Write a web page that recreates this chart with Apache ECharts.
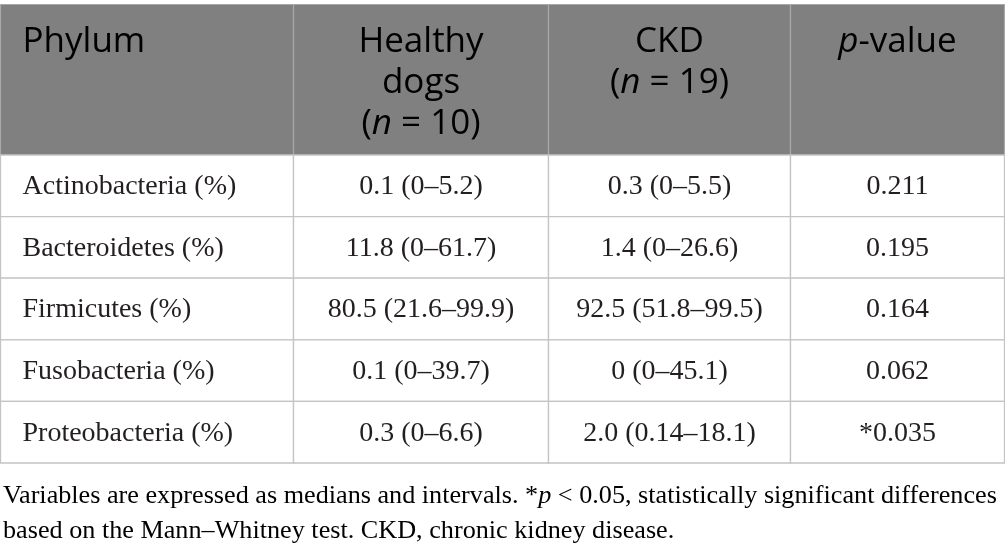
<!DOCTYPE html>
<html>
<head>
<meta charset="utf-8">
<script src="https://cdn.jsdelivr.net/npm/echarts@6/dist/echarts.min.js"></script>
<style>html,body{margin:0;padding:0;background:#fff}#c{width:1005px;height:553px}</style>
</head>
<body>
<div id="c"></div>
<script>
// ---- data ----
const headerLines = [['Phylum'], ['Healthy', 'dogs', '(n = 10)'], ['CKD', '(n = 19)'], ['p-value']];
const phyla = ['Actinobacteria (%)', 'Bacteroidetes (%)', 'Firmicutes (%)', 'Fusobacteria (%)', 'Proteobacteria (%)'];
const healthy = ['0.1 (0–5.2)', '11.8 (0–61.7)', '80.5 (21.6–99.9)', '0.1 (0–39.7)', '0.3 (0–6.6)'];
const ckd = ['0.3 (0–5.5)', '1.4 (0–26.6)', '92.5 (51.8–99.5)', '0 (0–45.1)', '2.0 (0.14–18.1)'];
const pValues = ['0.211', '0.195', '0.164', '0.062', '*0.035'];
const footnoteLines = [
  'Variables are expressed as medians and intervals. *p < 0.05, statistically significant differences',
  'based on the Mann–Whitney test. CKD, chronic kidney disease.'
];

// ---- layout ----
const colEdges = [0, 293, 548, 790, 1004];
const bodyColumns = [phyla, healthy, ckd, pValues];
const HEAD_FONT = '"Open Sans", sans-serif';
const BODY_FONT = '"Liberation Serif", serif';

function italicize(s, base) {
  // italic for stand-alone statistical symbols n and p
  return s.replace(/(^|\(|\*)([np])(?=[ \-])/g, (m, a, b) => a + '}{i|' + b + '}{' + base + '|')
    .replace(/^/, '{' + base + '|') + '}';
}

const headerData = headerLines.map((l, i) => [i, 0]);
const bodyData = [];
for (let c = 0; c < 4; c++) for (let r = 0; r < phyla.length; r++) bodyData.push([c, r]);

function cellGeom(api, c, r) {
  const x0 = Math.round(api.coord([colEdges[c], r])[0]) + 0.5;
  const x1 = Math.round(api.coord([colEdges[c + 1], r])[0]) + 0.5;
  const yc = api.coord([0, r])[1];
  const h = api.size([0, 1])[1];
  return { x0, x1, yc, h };
}

function renderHeader(params, api) {
  const c = api.value(0), r = api.value(1);
  const g = cellGeom(api, c, r);
  const top = g.yc - g.h / 2;
  const txt = headerLines[c].map(l => italicize(l, 't')).join('\n');
  return {
    type: 'group',
    children: [
      { type: 'rect', shape: { x: g.x0, y: Math.round(top) + 0.5, width: g.x1 - g.x0, height: g.h },
        style: { fill: '#808080', stroke: '#a8a8a8', lineWidth: 1.2 } },
      { type: 'text', style: {
          text: txt,
          x: c === 0 ? g.x0 + 22 : (g.x0 + g.x1) / 2,
          y: top + 18,
          align: c === 0 ? 'left' : 'center',
          verticalAlign: 'top',
          rich: {
            t: { fontFamily: HEAD_FONT, fontSize: 35, color: '#ffffff', lineHeight: 41 },
            i: { fontFamily: HEAD_FONT, fontSize: 35, color: '#ffffff', lineHeight: 41, fontStyle: 'italic' }
          }
        } }
    ]
  };
}

function renderBody(params, api) {
  const c = api.value(0), r = api.value(1);
  const g = cellGeom(api, c, r);
  return {
    type: 'group',
    children: [
      { type: 'rect', shape: { x: g.x0, y: g.yc - g.h / 2, width: g.x1 - g.x0, height: g.h },
        style: { fill: '#ffffff', stroke: '#c4c4c4', lineWidth: 1.3 } },
      { type: 'text', style: {
          text: bodyColumns[c][r],
          x: c === 0 ? g.x0 + 22 : (g.x0 + g.x1) / 2,
          y: g.yc + 1,
          align: c === 0 ? 'left' : 'center',
          verticalAlign: 'middle',
          font: '28px ' + BODY_FONT,
          fill: '#231f20'
        } }
    ]
  };
}

const chart = echarts.init(document.getElementById('c'), null, { renderer: 'canvas' });
chart.setOption({
  animation: false,
  grid: [
    { left: 0, width: 1004, top: 4, height: 151 },
    { left: 0, width: 1004, top: 155, height: 308 }
  ],
  xAxis: [
    { type: 'value', gridIndex: 0, min: 0, max: 1004, show: false },
    { type: 'value', gridIndex: 1, min: 0, max: 1004, show: false }
  ],
  yAxis: [
    { type: 'category', gridIndex: 0, data: ['header'], show: false },
    { type: 'category', gridIndex: 1, data: phyla, inverse: true, show: false }
  ],
  series: [
    { type: 'custom', xAxisIndex: 0, yAxisIndex: 0, data: headerData, renderItem: renderHeader, silent: true },
    { type: 'custom', xAxisIndex: 1, yAxisIndex: 1, data: bodyData, renderItem: renderBody, silent: true }
  ],
  graphic: footnoteLines.map((l, i) => ({
    type: 'text',
    left: 3,
    top: 483 + i * 35,
    silent: true,
    style: {
      text: italicize(l, 'f'),
      rich: {
        f: { fontFamily: BODY_FONT, fontSize: 26.2, color: '#231f20' },
        i: { fontFamily: BODY_FONT, fontSize: 26.2, color: '#231f20', fontStyle: 'italic' }
      }
    }
  }))
});
</script>
</body>
</html>
